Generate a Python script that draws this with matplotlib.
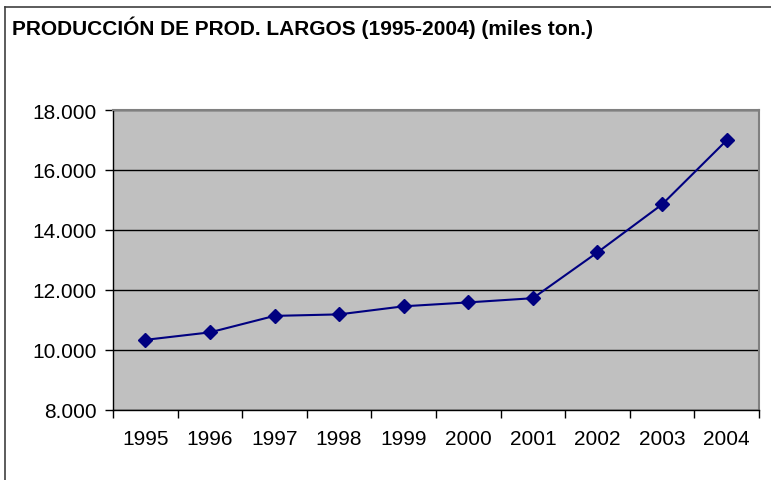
import matplotlib.pyplot as plt
from matplotlib.lines import Line2D
from matplotlib.ticker import FuncFormatter

# production of long products, thousand tons
years = ["1995", "1996", "1997", "1998", "1999", "2000", "2001", "2002", "2003", "2004"]
prod = [10.33, 10.58, 11.13, 11.18, 11.45, 11.58, 11.72, 13.25, 14.85, 16.99]

plt.rcParams['font.family'] = ['Liberation Sans', 'DejaVu Sans']

fig = plt.figure(figsize=(7.71, 4.81), dpi=100)
ax = fig.add_axes([0.1466, 0.1462, 0.8378, 0.623])

x = list(range(len(years)))
ax.set_facecolor("#C0C0C0")
ax.plot(x, prod, color="#000080", lw=1.5, marker="D", markersize=7, zorder=3)

ax.set_xlim(-0.5, len(years) - 0.5)
ax.set_ylim(8, 18)
ax.set_yticks([8, 10, 12, 14, 16, 18])
ax.yaxis.set_major_formatter(FuncFormatter(lambda v, p: "%d.000" % v))
ax.grid(axis="y", color="black", lw=1)
ax.set_axisbelow(True)

ax.set_xticks(x)
ax.set_xticklabels(years)
ax.set_xticks([i - 0.5 for i in range(len(years) + 1)], minor=True)
ax.tick_params(axis="x", which="major", length=0, pad=14, labelsize=15)
ax.tick_params(axis="x", which="minor", length=6, width=1, color="black")
ax.tick_params(axis="y", length=6, width=1, labelsize=15, pad=6)

for s in ["top", "right"]:
    ax.spines[s].set_color("#808080")
    ax.spines[s].set_linewidth(1.5)
for s in ["left", "bottom"]:
    ax.spines[s].set_color("black")
    ax.spines[s].set_linewidth(1)

# outer chart frame (cropped)
fig.add_artist(Line2D([5 / 771, 1], [1 - 8 / 481, 1 - 8 / 481], color="#404040", lw=1.2))
fig.add_artist(Line2D([5 / 771, 5 / 771], [0, 1 - 8 / 481], color="#404040", lw=1.2))

fig.text(12 / 771, 1 - 28 / 481, "PRODUCCIÓN DE PROD. LARGOS (1995-2004) (miles ton.)",
         fontsize=15, fontweight="bold", va="center", ha="left")

fig.savefig("out.png", dpi=100)
plt.close(fig)
